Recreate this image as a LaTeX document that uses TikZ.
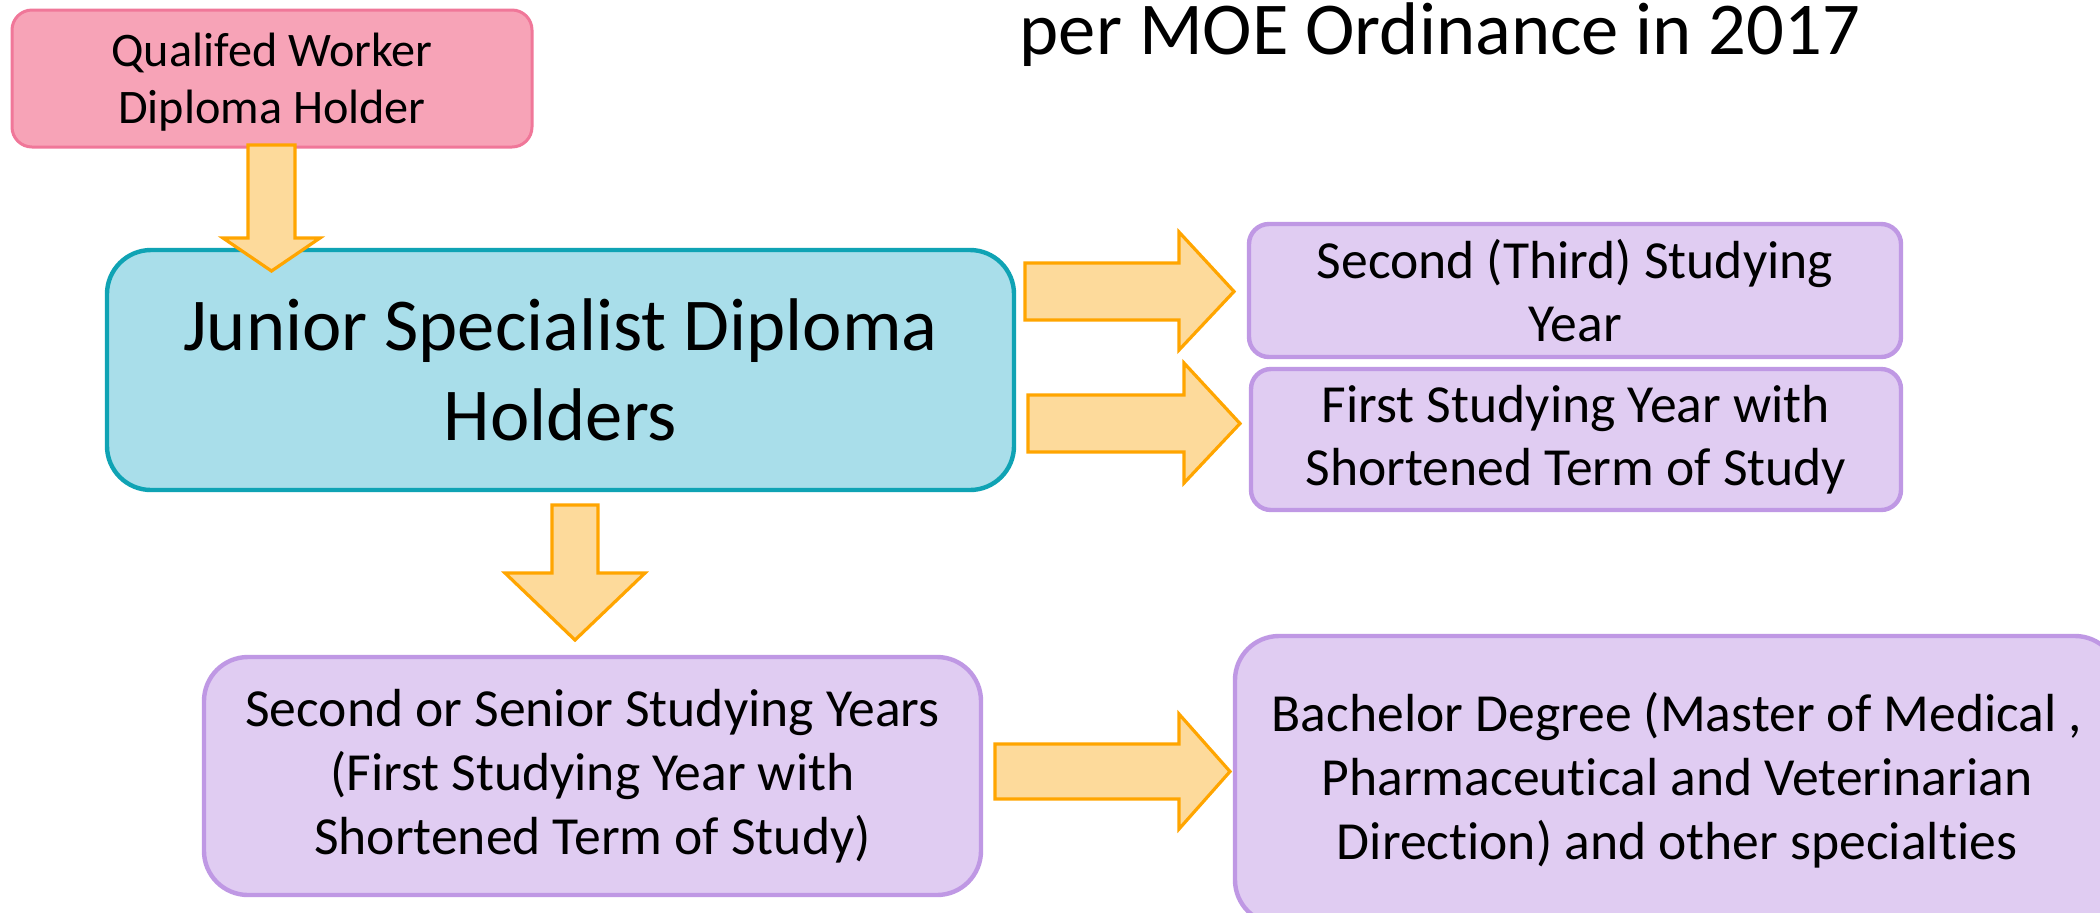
\documentclass[tikz,border=0pt]{standalone}
\usepackage{fontspec}
\setmainfont{Carlito}[Ligatures=NoCommon]
\definecolor{pinkfill}{HTML}{F7A3B7}
\definecolor{pinkline}{HTML}{F07799}
\definecolor{bluefill}{HTML}{A9DEEA}
\definecolor{blueline}{HTML}{0FA3B4}
\definecolor{purfill}{HTML}{E0CCF2}
\definecolor{purline}{HTML}{BF98E4}
\definecolor{arrfill}{HTML}{FDDA9B}
\definecolor{arrline}{HTML}{FFA500}
\tikzset{
  boxbase/.style={shape=rectangle, align=center, inner sep=0pt, anchor=center},
  pinkbox/.style={boxbase, draw=pinkline, fill=pinkfill, line width=1.5pt, rounded corners=10pt},
  pinktext/.style={boxbase, font=\fontsize{24.1pt}{28.5pt}\selectfont},
  bluebox/.style={boxbase, draw=blueline, fill=bluefill, line width=2.2pt, rounded corners=22pt,
     font=\fontsize{37.3pt}{45pt}\selectfont},
  purbox/.style={boxbase, draw=purline, fill=purfill, line width=2.2pt, rounded corners=10pt,
     font=\fontsize{26.8pt}{31.5pt}\selectfont},
  bigpurbox/.style={boxbase, draw=purline, fill=purfill, line width=2.2pt, rounded corners=22pt,
     font=\fontsize{26.8pt}{32pt}\selectfont},
  blockarrow/.style={draw=arrline, fill=arrfill, line width=1.6pt, line join=miter},
}
\begin{document}
\begin{tikzpicture}[x=0.5pt, y=-0.5pt]
\useasboundingbox (0,0) rectangle (2100,912);
\clip (0,0) rectangle (2100,912);
\fill[white] (0,0) rectangle (2100,912);

% title (second line of a cut-off heading)
\node[anchor=base, inner sep=0pt, font=\fontsize{37.3pt}{45pt}\selectfont] (title) at (1440,54) {per MOE Ordinance in 2017};

% boxes
\node[pinkbox, minimum width=260pt, minimum height=68.5pt] (qual) at (272,78.5) {};
\node[pinktext] (qualtext) at ([yshift=-2pt]qual.center) {Qualifed Worker\\Diploma Holder};
\node[bluebox, minimum width=453.5pt, minimum height=120pt] (junior) at (560.5,370) {Junior Specialist Diploma\\Holders};
\node[purbox, minimum width=326pt, minimum height=66.5pt] (third) at (1575,290.5) {Second (Third) Studying\\Year};
\node[purbox, minimum width=325pt, minimum height=70.5pt] (first) at (1576,439.5) {First Studying Year with\\Shortened Term of Study};
\node[bigpurbox, minimum width=388.5pt, minimum height=119pt] (senior) at (592.5,776) {Second or Senior Studying Years\\(First Studying Year with\\Shortened Term of Study)};
\node[bigpurbox, minimum width=442pt, minimum height=144pt] (bachelor) at (1677,780) {Bachelor Degree (Master of Medical ,\\Pharmaceutical and Veterinarian\\Direction) and other specialties};

% block arrows
% qual -> junior
\draw[blockarrow] (248,145) -- (295,145) -- (295,238) -- (320,238) -- (271.5,271) -- (223,238) -- (248,238) -- cycle;
% junior -> third
\draw[blockarrow] (1025,263) -- (1179,263) -- (1179,232) -- (1234,291.5) -- (1179,350) -- (1179,320) -- (1025,320) -- cycle;
% junior -> first
\draw[blockarrow] (1028,395) -- (1184,395) -- (1184,363) -- (1240,423.5) -- (1184,483) -- (1184,452) -- (1028,452) -- cycle;
% junior -> senior
\draw[blockarrow] (552,505) -- (598,505) -- (598,573) -- (645,573) -- (575,640) -- (505,573) -- (552,573) -- cycle;
% senior -> bachelor
\draw[blockarrow] (995,744) -- (1179,744) -- (1179,714) -- (1230,771.5) -- (1179,829) -- (1179,799) -- (995,799) -- cycle;
\end{tikzpicture}
\end{document}
